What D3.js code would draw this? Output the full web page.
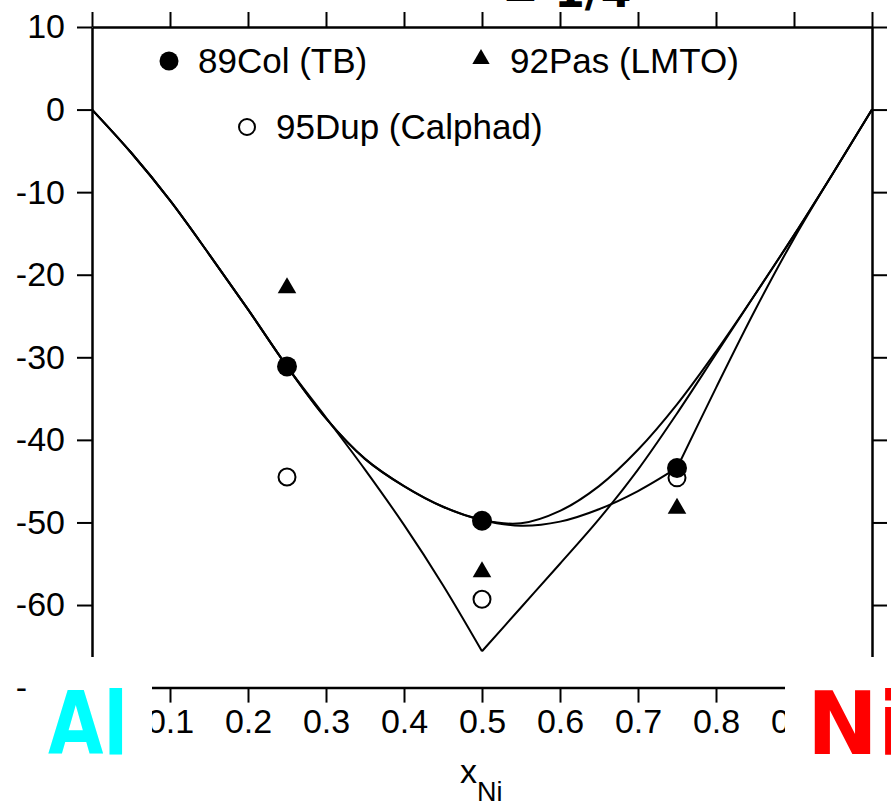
<!DOCTYPE html>
<html><head><meta charset="utf-8">
<script src="https://cdn.jsdelivr.net/npm/d3@7"></script>
<style>body{margin:0;background:#fff} svg{display:block}</style>
</head><body><svg id="c" width="891" height="804"></svg>
<script>
// ---- data ----
const xGrid  = [0,0.05,0.1,0.15,0.2,0.25,0.3,0.35,0.4,0.45,0.5,0.55,0.6,0.65,0.7,0.75,0.8,0.85,0.9,0.95,1];
const curveA = [0,-5.2,-11,-17.5,-24.2,-31.1,-37.4,-42.3,-45.6,-48.1,-49.7,-50.1,-48.6,-45.6,-41.2,-35.7,-29.3,-22.4,-15.2,-7.7,0];
const curveB = [0,-5.2,-11,-17.5,-24.2,-31.1,-37.4,-42.3,-45.6,-48.1,-49.7,-50.4,-49.9,-48.4,-46.2,-43.4,-33.7,-24.3,-15.6,-7.7,0];
const curveV = [0,-5.2,-11,-17.5,-24.2,-31.1,-37.3,-43.6,-50.3,-57.6,-65.6,-60.3,-55.0,-49.6,-43.6,-36.8,-29.6,-22.4,-15.2,-7.7,0];
const kinksB = [0.75];
const kinksV = [0.5];
const tbX = [0.25,0.5,0.75],      tbY = [-31.1,-49.8,-43.4];
const lmtoX = [0.25,0.5,0.75],    lmtoY = [-21.6,-56.0,-48.3];
const calphadX = [0.25,0.5,0.75], calphadY = [-44.5,-59.3,-44.6];
const xTicks = [0,0.1,0.2,0.3,0.4,0.5,0.6,0.7,0.8,0.9,1];
const yTicks = [-70,-60,-50,-40,-30,-20,-10,0,10];
const legendLabels = ["89Col (TB)","92Pas (LMTO)","95Dup (Calphad)"];
const xTitle = "x", xTitleSub = "Ni";
const leftEl = "Al", rightEl = "Ni";
const titleFragment = "= 1/4";

// ---- drawing ----
const svg = d3.select("#c");
const x = d3.scaleLinear([0,1],[92,872]);
const y = d3.scaleLinear([-70,10],[687.6,27]);
const font = "'Liberation Sans', Arial, Helvetica, sans-serif";

// title fragment (mostly cut off at the top edge)
svg.append("text").attr("x",502).attr("y",7).attr("font-family","'DejaVu Sans'")
  .attr("font-weight","bold").attr("font-size",44).text(titleFragment);

function styleAxis(g){
  g.selectAll(".domain").attr("stroke","#000").attr("stroke-width",2.5);
  g.selectAll(".tick line").attr("stroke","#000").attr("stroke-width",2);
  g.selectAll(".tick text").attr("fill","#000").attr("font-family",font);
}
const gL = svg.append("g").attr("transform",`translate(${x(0)},0)`)
  .call(d3.axisLeft(y).tickValues(yTicks).tickSize(15).tickSizeOuter(0).tickPadding(12).tickFormat(d=>String(d)));
styleAxis(gL); gL.selectAll(".tick text").attr("font-size",34);
const gR = svg.append("g").attr("transform",`translate(${x(1)},0)`)
  .call(d3.axisRight(y).tickValues(yTicks).tickSize(15).tickSizeOuter(0).tickFormat(""));
styleAxis(gR);
const gT = svg.append("g").attr("transform",`translate(0,${y(10)})`)
  .call(d3.axisTop(x).tickValues(xTicks).tickSize(15).tickSizeOuter(0).tickFormat(""));
styleAxis(gT);
const gB = svg.append("g").attr("transform",`translate(0,${y(-70)})`)
  .call(d3.axisBottom(x).tickValues(xTicks).tickSize(15).tickSizeOuter(0).tickPadding(6)
  .tickFormat(d=> (d===0||d===1)? String(d) : d.toFixed(1)));
styleAxis(gB); gB.selectAll(".tick text").attr("font-size",34);

// curves, split at kinks
function segments(vals, kinks){
  const pts = xGrid.map((xv,i)=>[xv,vals[i]]);
  const cuts = [0, ...kinks, 1];
  const segs = [];
  for(let k=0;k<cuts.length-1;k++){
    segs.push(pts.filter(p=>p[0]>=cuts[k]-1e-9 && p[0]<=cuts[k+1]+1e-9));
  }
  return segs;
}
const line = d3.line().x(d=>x(d[0])).y(d=>y(d[1])).curve(d3.curveCatmullRom.alpha(0.5));
const allSegs = [...segments(curveA,[]), ...segments(curveB,kinksB), ...segments(curveV,kinksV)];
svg.append("g").selectAll("path").data(allSegs).join("path")
  .attr("d",line).attr("fill","none").attr("stroke","#000").attr("stroke-width",2);

// markers
const tri = d3.symbol(d3.symbolTriangle, 150);
svg.append("g").selectAll("circle").data(calphadX.map((v,i)=>[v,calphadY[i]])).join("circle")
  .attr("cx",d=>x(d[0])).attr("cy",d=>y(d[1])).attr("r",8.5)
  .attr("fill","#fff").attr("stroke","#000").attr("stroke-width",2);
svg.append("g").selectAll("circle").data(tbX.map((v,i)=>[v,tbY[i]])).join("circle")
  .attr("cx",d=>x(d[0])).attr("cy",d=>y(d[1])).attr("r",10).attr("fill","#000");
svg.append("g").selectAll("path").data(lmtoX.map((v,i)=>[v,lmtoY[i]])).join("path")
  .attr("d",tri).attr("transform",d=>`translate(${x(d[0])},${y(d[1])})`).attr("fill","#000");

// legend
const lg = svg.append("g").attr("font-family",font).attr("font-size",35).attr("fill","#000");
lg.append("circle").attr("cx",169).attr("cy",61).attr("r",9.5).attr("fill","#000");
lg.append("text").attr("x",198).attr("y",73).text(legendLabels[0]);
lg.append("path").attr("d",d3.symbol(d3.symbolTriangle,130)()).attr("transform","translate(481,59)");
lg.append("text").attr("x",510).attr("y",73).text(legendLabels[1]);
lg.append("circle").attr("cx",247).attr("cy",127).attr("r",8).attr("fill","#fff").attr("stroke","#000").attr("stroke-width",2);
lg.append("text").attr("x",276).attr("y",139).text(legendLabels[2]);

// x title
const xt = svg.append("text").attr("x",460).attr("y",783).attr("font-family",font).attr("font-size",34);
xt.append("tspan").text(xTitle);
xt.append("tspan").attr("dy",18).attr("font-size",27).text(xTitleSub);

// pasted element labels over white patches
svg.append("rect").attr("x",28).attr("y",657).attr("width",124).attr("height",147).attr("fill","#fff");
svg.append("rect").attr("x",785).attr("y",657).attr("width",106).attr("height",147).attr("fill","#fff");
svg.append("text").attr("x",48).attr("y",754).attr("font-family","'DejaVu Sans'").attr("font-weight","bold")
  .attr("font-size",88).attr("fill","#00ffff").attr("textLength",80).attr("lengthAdjust","spacingAndGlyphs").text(leftEl);
svg.append("text").attr("x",807).attr("y",754).attr("font-family","'DejaVu Sans'").attr("font-weight","bold")
  .attr("font-size",88).attr("fill","#ff0000").attr("textLength",100).attr("lengthAdjust","spacingAndGlyphs").text(rightEl);
</script></body></html>
